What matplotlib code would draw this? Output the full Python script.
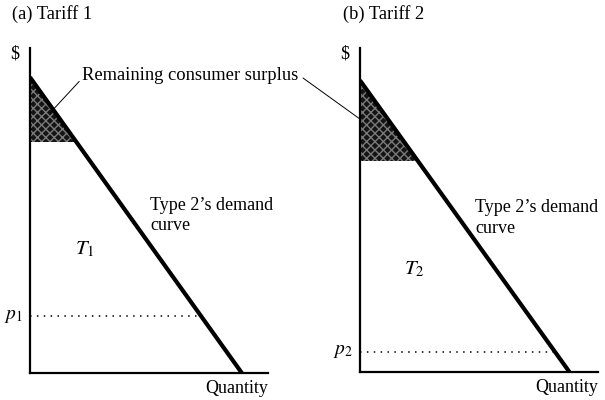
import matplotlib.pyplot as plt

plt.rcParams['font.family'] = 'Liberation Serif'
plt.rcParams['mathtext.fontset'] = 'stix'

# demand curve intercepts (price axis, quantity axis), lower edge of the
# remaining-surplus region and the per-unit price for each tariff
panels = ['(a) Tariff 1', '(b) Tariff 2']
price_intercept = [9.1, 9.0]
quantity_intercept = [8.9, 8.8]
surplus_floor = [7.1, 6.5]
unit_price = [1.75, 0.62]
price_labels = ['$p_1$', '$p_2$']
fee_labels = ['$T_1$', '$T_2$']
fee_pos = [(2.3, 3.8), (2.3, 3.15)]
curve_label_pos = [(5.05, 4.85), (4.85, 4.75)]

fig = plt.figure(figsize=(6.05, 4.0), dpi=100)
ax_a = fig.add_axes([30/605, 27/400, 238/605, 325/400])
ax_b = fig.add_axes([360/605, 28/400, 238/605, 324/400])
axes = [ax_a, ax_b]

for i, ax in enumerate(axes):
    a = price_intercept[i]
    q = quantity_intercept[i]
    ax.set_xlim(0, 10)
    ax.set_ylim(0, 10)

    # shaded remaining consumer surplus
    q_floor = q * (1 - surplus_floor[i] / a)
    ax.fill([0, 0, q_floor], [a, surplus_floor[i], surplus_floor[i]],
            facecolor='#141414', edgecolor='#7a7a7a', hatch='xxxx', lw=0)

    # demand curve
    ax.plot([0, q], [a, 0], color='black', lw=3.0, solid_capstyle='butt')

    # price line
    q_p = q * (1 - unit_price[i] / a)
    ax.plot([0, q_p], [unit_price[i], unit_price[i]], color='black',
            lw=1.1, linestyle=(0, (1, 3.5)))

    ax.text(-0.3, unit_price[i], price_labels[i], ha='right', va='center', fontsize=14)
    ax.text(fee_pos[i][0], fee_pos[i][1], fee_labels[i], ha='center', va='center', fontsize=15)
    ax.text(curve_label_pos[i][0], curve_label_pos[i][1], 'Type 2\u2019s demand\ncurve',
            ha='left', va='center', fontsize=13, linespacing=1.25)
    ax.text(-0.45, 9.8, '$', ha='right', va='center', fontsize=13)
    ax.text(8.7, -0.48, 'Quantity', ha='center', va='center', fontsize=13, clip_on=False)

    for s in ['top', 'right']:
        ax.spines[s].set_visible(False)
    for s in ['left', 'bottom']:
        ax.spines[s].set_linewidth(1.6)
    ax.set_xticks([])
    ax.set_yticks([])
    ax.patch.set_alpha(0)

fig.text(12/605, 1 - 14/400, panels[0], ha='left', va='center', fontsize=13.3)
fig.text(343/605, 1 - 14/400, panels[1], ha='left', va='center', fontsize=13.3)

# label with leader lines into both panels
ax_a.annotate('Remaining consumer surplus', xy=(0.84, 8.0),
              xytext=(82/605, 1 - 75/400), textcoords='figure fraction',
              ha='left', va='center', fontsize=13.3, annotation_clip=False,
              arrowprops=dict(arrowstyle='-', lw=0.7, color='black',
                              shrinkA=0, shrinkB=0, relpos=(0, 0.3)))
ax_b.annotate('', xy=(0.05, 7.78), xytext=(303/605, 1 - 78/400),
              textcoords='figure fraction', annotation_clip=False,
              arrowprops=dict(arrowstyle='-', lw=0.7, color='black',
                              shrinkA=0, shrinkB=0))

fig.savefig('out.png', dpi=100)
